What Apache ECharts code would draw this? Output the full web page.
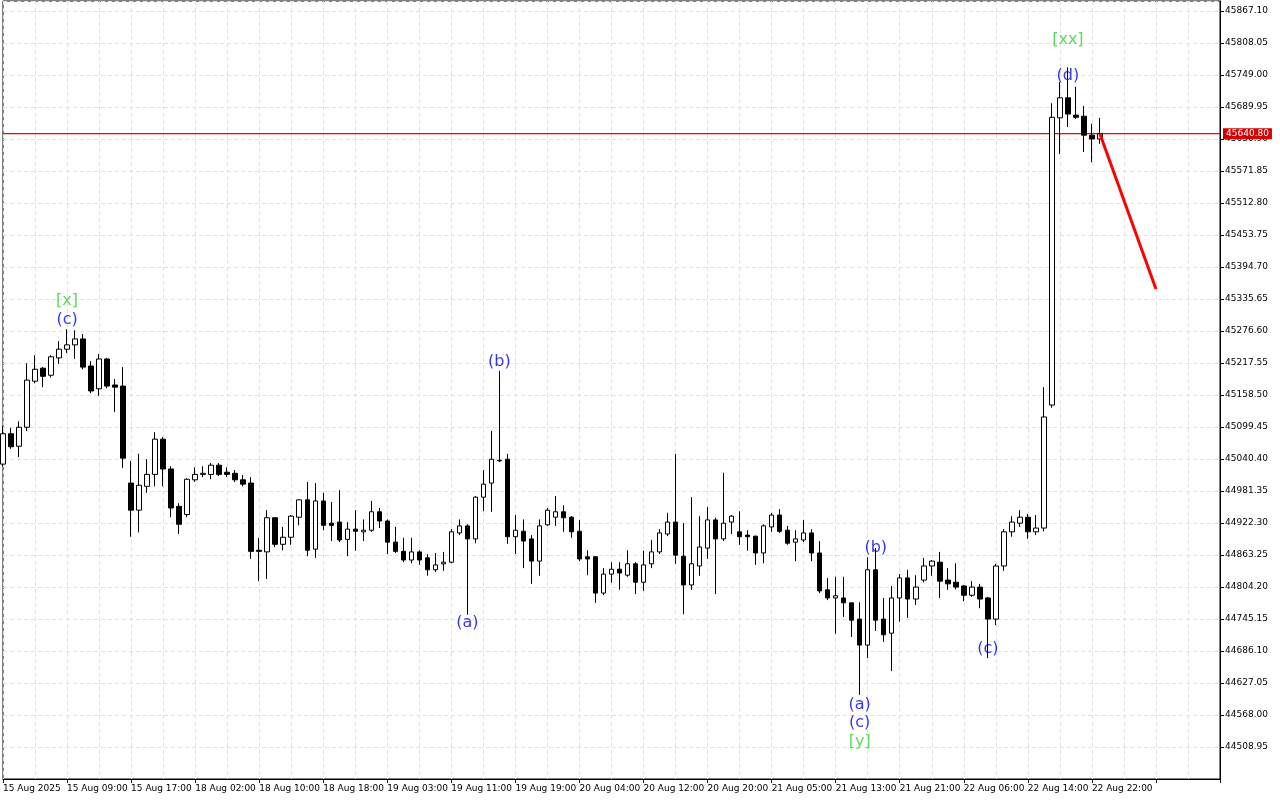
<!DOCTYPE html>
<html>
<head>
<meta charset="utf-8">
<script src="https://cdn.jsdelivr.net/npm/echarts@6/dist/echarts.min.js"></script>
<style>html,body{margin:0;padding:0;background:#fff}#main{width:1280px;height:800px}</style>
</head>
<body>
<div id="main"></div>
<script>
// hourly candles: [open, close, low, high]
var candles = [
  [45031,45087,45027,45101],[45087,45063,45059,45098],[45064,45099,45044,45110],[45099,45186,45092,45217],
  [45184,45206,45180,45232],[45208,45193,45173,45210],[45195,45229,45191,45232],[45227,45243,45216,45258],
  [45243,45251,45236,45280],[45251,45262,45225,45278],[45262,45210,45206,45271],[45212,45166,45162,45221],
  [45170,45225,45157,45234],[45225,45175,45171,45227],[45177,45173,45127,45188],[45175,45042,45024,45210],
  [44996,44946,44897,45037],[44946,44992,44905,45050],[44990,45012,44978,45040],[45012,45077,44990,45090],
  [45077,45022,44990,45081],[45022,44950,44933,45027],[44953,44920,44902,44959],[44938,45003,44933,45005],
  [45002,45012,44998,45025],[45012,45014,45007,45027],[45012,45029,45003,45033],[45029,45012,45009,45033],
  [45016,45012,45007,45025],[45014,45002,44998,45020],[45002,44994,44990,45011],[44996,44870,44856,45007],
  [44872,44870,44815,44895],[44869,44932,44819,44946],[44932,44883,44878,44933],[44883,44896,44872,44915],
  [44896,44935,44882,44937],[44933,44965,44918,44966],[44965,44872,44861,44998],[44874,44963,44858,44996],
  [44963,44918,44909,44978],[44922,44918,44889,44961],[44924,44891,44887,44983],[44892,44911,44861,44924],
  [44911,44907,44871,44946],[44906,44909,44889,44929],[44909,44943,44906,44963],[44943,44926,44913,44950],
  [44926,44887,44865,44929],[44887,44870,44867,44915],[44870,44854,44850,44895],[44854,44869,44848,44895],
  [44869,44854,44845,44872],[44858,44836,44825,44865],[44836,44845,44832,44867],[44847,44850,44834,44869],
  [44850,44906,44848,44911],[44904,44917,44900,44929],[44917,44893,44753,44920],[44893,44970,44885,44972],
  [44970,44994,44944,45020],[44996,45040,44943,45092],[45037,45038,45035,45203],[45040,44897,44884,45050],
  [44897,44909,44865,44937],[44907,44889,44839,44929],[44893,44852,44810,44900],[44852,44917,44825,44929],
  [44919,44946,44917,44950],[44933,44943,44917,44972],[44943,44932,44906,44955],[44933,44906,44895,44935],
  [44907,44856,44852,44928],[44860,44856,44826,44872],[44860,44793,44775,44861],[44793,44828,44789,44839],
  [44828,44837,44812,44850],[44837,44830,44799,44850],[44826,44847,44823,44872],[44847,44813,44791,44850],
  [44813,44845,44797,44871],[44847,44869,44839,44891],[44869,44904,44865,44911],[44902,44924,44898,44941],
  [44924,44863,44847,45050],[44861,44808,44754,44922],[44808,44847,44799,44970],[44843,44878,44825,44935],
  [44876,44928,44856,44952],[44928,44893,44791,44932],[44893,44922,44889,45015],[44924,44935,44902,44937],
  [44906,44897,44882,44944],[44900,44897,44871,44909],[44898,44867,44845,44899],[44867,44917,44848,44920],
  [44915,44937,44906,44941],[44937,44907,44904,44948],[44909,44885,44882,44917],[44887,44893,44852,44909],
  [44891,44904,44887,44928],[44904,44867,44852,44911],[44867,44797,44793,44889],[44799,44784,44780,44821],
  [44784,44788,44718,44823],[44784,44775,44749,44823],[44775,44743,44712,44776],[44745,44697,44605,44776],
  [44697,44836,44673,44859],[44836,44743,44723,44876],[44745,44716,44703,44784],[44719,44784,44649,44806],
  [44784,44821,44740,44828],[44821,44782,44747,44836],[44782,44804,44771,44826],[44817,44843,44813,44858],
  [44843,44852,44825,44854],[44850,44815,44784,44869],[44817,44810,44799,44839],[44813,44804,44800,44848],
  [44806,44789,44778,44808],[44789,44804,44786,44815],[44804,44782,44765,44810],[44784,44745,44673,44786],
  [44745,44843,44734,44847],[44843,44906,44834,44911],[44906,44924,44897,44935],[44922,44933,44915,44946],
  [44933,44906,44893,44939],[44906,44913,44900,44937],[44913,45118,44907,45173],[45140,45671,45135,45697],
  [45670,45707,45603,45736],[45707,45677,45653,45763],[45675,45671,45668,45727],[45673,45638,45607,45692],
  [45638,45631,45588,45659],[45631,45640.8,45622,45670]
];
var timeLabels = ["15 Aug 2025","15 Aug 09:00","15 Aug 17:00","18 Aug 02:00","18 Aug 10:00","18 Aug 18:00",
  "19 Aug 03:00","19 Aug 11:00","19 Aug 19:00","20 Aug 04:00","20 Aug 12:00","20 Aug 20:00",
  "21 Aug 05:00","21 Aug 13:00","21 Aug 21:00","22 Aug 06:00","22 Aug 14:00","22 Aug 22:00"];
var currentPrice = 45640.80;
var forecast = [[137, 45640.8], [144, 45354]];
// wave labels: [index, price, text]
var blueMarks = [[8,45297,"(c)"],[62,45219,"(b)"],[58,44738,"(a)"],[109,44876,"(b)"],[107,44587,"(a)"],
  [107,44553,"(c)"],[123,44690,"(c)"],[133,45747,"(d)"]];
var greenMarks = [[8,45332,"[x]"],[107,44518,"[y]"],[133,45814,"[xx]"]];
var slotCount = 153;

var categories = [];
for (var i = 0; i < slotCount; i++) categories.push(i);

var chart = echarts.init(document.getElementById('main'));
var dash = { color: '#e2e2e2', type: [4, 3], width: 1 };
function markSeries(data, color) {
  return {
    type: 'scatter', symbolSize: 0, silent: true,
    data: data.map(function (d) { return [d[0], d[1], d[2]]; }),
    label: { show: true, position: 'inside', formatter: function (p) { return p.data[2]; },
      color: color, fontSize: 16, fontFamily: 'DejaVu Sans' }
  };
}
chart.setOption({
  animation: false,
  backgroundColor: '#fff',
  grid: { left: 1.3, right: 60, top: 1, bottom: 21, show: true, borderColor: '#000', borderWidth: 1 },
  xAxis: {
    type: 'category', data: categories, boundaryGap: false,
    axisLine: { lineStyle: { color: '#000' } },
    axisTick: { interval: 7, length: 4, lineStyle: { color: '#000' } },
    axisLabel: { interval: 7, align: 'left', fontSize: 9, color: '#000', margin: 5, fontFamily: 'DejaVu Sans',
      formatter: function (v) { return timeLabels[v / 8] || ''; } },
    splitLine: { show: true, interval: 3, lineStyle: dash }
  },
  yAxis: {
    type: 'value', position: 'right', scale: true,
    min: 44449.90, max: 45885.6, interval: 59.05,
    axisLine: { show: true, lineStyle: { color: '#000' } },
    axisTick: { show: true, length: 4, lineStyle: { color: '#000' } },
    axisLabel: { fontSize: 9, color: '#000', margin: 5, fontFamily: 'DejaVu Sans', showMinLabel: false, showMaxLabel: false,
      formatter: function (v) { return v.toFixed(2); } },
    splitLine: { show: true, lineStyle: dash }
  },
  series: [
    {
      type: 'line', data: [[0, currentPrice], [slotCount - 1, currentPrice]], symbol: 'none', silent: true,
      color: '#ff0000', lineStyle: { color: '#ff0000', width: 1.3 }, z: 1,
      endLabel: { show: true, formatter: currentPrice.toFixed(2), backgroundColor: '#d40000', color: '#fff',
        fontSize: 9, padding: [1, 3], distance: 3, fontFamily: 'DejaVu Sans' }
    },
    {
      type: 'candlestick', data: candles, barWidth: 5, z: 2,
      itemStyle: { color: '#fff', color0: '#000', borderColor: '#000', borderColor0: '#000', borderWidth: 1 }
    },
    {
      type: 'line', data: forecast, symbol: 'none', color: '#ff0000',
      lineStyle: { color: '#ff0000', width: 3 }, silent: true, z: 3
    },
    markSeries(blueMarks, '#0000f0'),
    markSeries(greenMarks, '#3ccc3c')
  ]
});
</script>
</body>
</html>
